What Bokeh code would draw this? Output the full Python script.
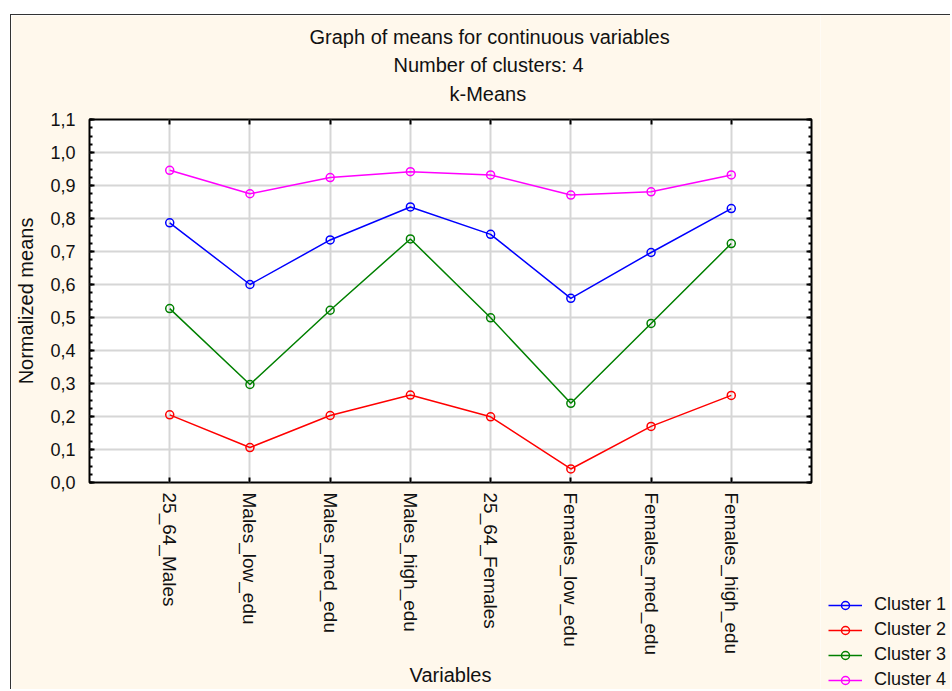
from bokeh.plotting import figure
from bokeh.models import (FactorRange, Range1d, Title, Legend, LegendItem,
                          LinearAxis, CategoricalAxis, FixedTicker, Spacer,
                          CustomJSTickFormatter)
from bokeh.layouts import column, row
from bokeh.embed import file_html
from bokeh.resources import INLINE

variables = ["25_64_Males", "Males_low_edu", "Males_med_edu", "Males_high_edu",
             "25_64_Females", "Females_low_edu", "Females_med_edu", "Females_high_edu"]

cluster1 = [0.787, 0.600, 0.735, 0.835, 0.752, 0.558, 0.697, 0.830]
cluster2 = [0.205, 0.106, 0.203, 0.265, 0.199, 0.041, 0.170, 0.264]
cluster3 = [0.527, 0.297, 0.522, 0.738, 0.499, 0.240, 0.482, 0.724]
cluster4 = [0.946, 0.875, 0.924, 0.942, 0.932, 0.871, 0.881, 0.932]

series_names = ["Cluster 1", "Cluster 2", "Cluster 3", "Cluster 4"]
series_colors = ["#0000FF", "#FF0000", "#008000", "#FF00FF"]
series_values = [cluster1, cluster2, cluster3, cluster4]

y_ticks = [0.0, 0.1, 0.2, 0.3, 0.4, 0.5, 0.6, 0.7, 0.8, 0.9, 1.0, 1.1]
y_minor = [round(i * 0.025, 4) for i in range(45)]

FONT = "Liberation Sans"
BG = "#FFF8EC"
TXT = "#111111"
BORDER = "1px solid #333333"

p = figure(width=810, height=675, output_backend="svg", toolbar_location=None,
           x_range=FactorRange(*variables, range_padding=0.125),
           y_range=Range1d(0.0, 1.1),
           min_border_left=78, min_border_right=10,
           min_border_top=104, min_border_bottom=208,
           background_fill_color="white", border_fill_color=BG)
p.frame_align = False

p.outline_line_color = "black"
p.outline_line_width = 2

# grid
p.xgrid.grid_line_color = "#D6D6D6"
p.xgrid.grid_line_width = 2
p.ygrid.grid_line_color = "#D6D6D6"
p.ygrid.grid_line_width = 2
p.ygrid.ticker = FixedTicker(ticks=y_ticks)

# y axis
ya = p.yaxis[0]
ya.ticker = FixedTicker(ticks=y_ticks, minor_ticks=y_minor)
ya.major_label_overrides = {t: f"{t:.1f}".replace(".", ",") for t in y_ticks}
ya.axis_label = "Normalized means"
ya.axis_label_text_font = FONT
ya.axis_label_text_font_size = "20px"
ya.axis_label_text_font_style = "normal"
ya.axis_label_text_color = TXT
ya.axis_label_standoff = 10
ya.major_label_text_font = FONT
ya.major_label_text_font_size = "18px"
ya.major_label_text_color = TXT
ya.major_label_standoff = 14
ya.axis_line_color = None
ya.major_tick_in = 5
ya.major_tick_out = 0
ya.minor_tick_in = 3
ya.minor_tick_out = 0
ya.major_tick_line_color = "black"
ya.minor_tick_line_color = "black"
ya.major_tick_line_width = 2
ya.minor_tick_line_width = 2

# x axis
xa = p.xaxis[0]
xa.axis_label = "Variables"
xa.axis_label_text_font = FONT
xa.axis_label_text_font_size = "20px"
xa.axis_label_text_font_style = "normal"
xa.axis_label_text_color = TXT
xa.axis_label_standoff = 6
xa.major_label_orientation = "vertical"
xa.major_label_text_font = FONT
xa.major_label_text_font_size = "19px"
xa.major_label_text_color = TXT
xa.major_label_standoff = 10
xa.axis_line_color = None
xa.major_tick_in = 5
xa.major_tick_out = 0
xa.major_tick_line_width = 2
xa.major_tick_line_color = "black"

# right axis: inner ticks only
ra = LinearAxis(ticker=FixedTicker(ticks=y_ticks, minor_ticks=y_minor),
                formatter=CustomJSTickFormatter(code="return ''"),
                major_label_standoff=0,
                axis_line_color=None, major_tick_in=5, major_tick_out=0,
                minor_tick_in=3, minor_tick_out=0, major_tick_line_width=2,
                minor_tick_line_width=2)
p.add_layout(ra, "right")

# top axis: inner ticks only
ta = CategoricalAxis(formatter=CustomJSTickFormatter(code="return ''"),
                     major_label_standoff=0, axis_line_color=None,
                     major_tick_in=5, major_tick_out=0, major_tick_line_width=2)
p.add_layout(ta, "above")

# invisible top axis used only as a gap between the frame and the titles
gap = CategoricalAxis(formatter=CustomJSTickFormatter(code="return ''"),
                      major_label_standoff=0, axis_line_color=None,
                      major_tick_in=0, major_tick_out=12,
                      major_tick_line_color=None)
p.add_layout(gap, "above")

# series
for name, color, vals in zip(series_names, series_colors, series_values):
    p.line(variables, vals, line_color=color, line_width=1.5)
    p.scatter(variables, vals, marker="circle", size=8, line_color=color,
              line_width=1.5, fill_color=None)

# titles (added innermost first)
title_texts = ["k-Means", "Number of clusters: 4", "Graph of means for continuous variables"]
title_offsets = [360, 304, 220]
title_standoffs = [6, 4, 4]
for txt, off, so in zip(title_texts, title_offsets, title_standoffs):
    t = Title(text=txt, align="left", offset=off, text_font=FONT,
              text_font_size="20px", text_font_style="normal",
              text_color=TXT, standoff=so)
    p.add_layout(t, "above")

p.styles = {"border-top": BORDER, "border-left": BORDER}

# legend panel at the right (its glyph renderers sit outside its visible range)
lf = figure(width=130, height=675, output_backend="svg", toolbar_location=None,
            x_range=Range1d(2, 3), y_range=Range1d(2, 3),
            min_border=0, background_fill_color=BG, border_fill_color=BG)
lf.frame_align = False
lf.axis.visible = False
lf.grid.visible = False
lf.outline_line_color = None
items = []
for name, color, vals in zip(series_names, series_colors, series_values):
    ln = lf.line(vals, vals, line_color=color, line_width=1.5)
    mk = lf.scatter(vals, vals, marker="circle", size=8, line_color=color,
                    line_width=1.5, fill_color=None)
    items.append(LegendItem(label=name, renderers=[ln, mk]))
legend = Legend(items=items, location=(8, 0), orientation="vertical",
                label_text_font=FONT, label_text_font_size="18px",
                label_text_color=TXT, glyph_width=34, glyph_height=20,
                label_height=20, spacing=4, padding=0, margin=0,
                background_fill_alpha=0, border_line_color=None,
                label_standoff=12)
lf.add_layout(legend, "center")
lf.styles = {"border-top": BORDER}

layout = column(Spacer(height=14, width=940),
                row(Spacer(width=10, height=675), p, lf))
open("out.html", "w").write(file_html(layout, INLINE))
